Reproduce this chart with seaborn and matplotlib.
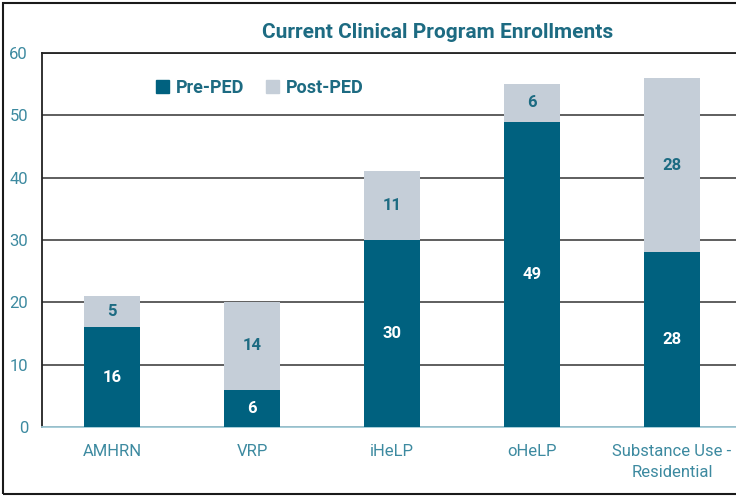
import matplotlib
matplotlib.use('Agg')
import matplotlib.pyplot as plt
import seaborn as sns
import pandas as pd
from matplotlib.patches import Patch, Rectangle

programs = ['AMHRN', 'VRP', 'iHeLP', 'oHeLP', 'Substance Use -\nResidential']
pre_ped = [16, 6, 30, 49, 28]
post_ped = [5, 14, 11, 6, 28]

dark = '#00617f'
light = '#c5ced8'
teal_text = '#1d6b82'
tick_col = '#3d8aa0'

sns.set_theme(style='white')
plt.rcParams['font.family'] = ['Roboto', 'DejaVu Sans']

df = pd.DataFrame({'program': programs, 'pre': pre_ped, 'post': post_ped})
df['total'] = df['pre'] + df['post']

fig = plt.figure(figsize=(7.36, 4.98), dpi=100)
ax = fig.add_axes([42 / 736, 71 / 498, 700 / 736, 374 / 498])

sns.barplot(data=df, x='program', y='total', color=light, width=0.4,
            saturation=1, linewidth=0, ax=ax, zorder=3)
sns.barplot(data=df, x='program', y='pre', color=dark, width=0.4,
            saturation=1, linewidth=0, ax=ax, zorder=4)

# value labels
for i, row in df.iterrows():
    ax.text(i, row['pre'] / 2, str(row['pre']), ha='center', va='center',
            color='white', fontsize=12, fontweight='bold', zorder=5)
    ax.text(i, row['pre'] + row['post'] / 2, str(row['post']), ha='center',
            va='center', color=teal_text, fontsize=12, fontweight='bold', zorder=5)

ax.set_ylim(0, 60)
ax.set_xlim(-0.5, 4.5)
ax.set_yticks(range(0, 61, 10))
ax.yaxis.grid(True, color='#333333', linewidth=1.1, zorder=0)
ax.set_axisbelow(True)
ax.set_xlabel('')
ax.set_ylabel('')
ax.tick_params(axis='y', length=0, pad=10, labelsize=12, labelcolor=tick_col)
ax.tick_params(axis='x', length=0, pad=12, labelsize=12, labelcolor=tick_col)
for lbl in ax.get_xticklabels():
    lbl.set_linespacing(1.5)

ax.spines['right'].set_visible(False)
ax.spines['left'].set_color('#222222')
ax.spines['left'].set_linewidth(1.3)
ax.spines['top'].set_color('#222222')
ax.spines['top'].set_linewidth(1.3)
ax.spines['bottom'].set_color('#9fc9d6')
ax.spines['bottom'].set_linewidth(1.3)

handles = [Patch(color=dark, label='Pre-PED'), Patch(color=light, label='Post-PED')]
leg = ax.legend(handles=handles, loc='upper left', bbox_to_anchor=(0.14, 0.975),
                ncol=2, frameon=False, handlelength=0.7, handleheight=0.7,
                handletextpad=0.4, columnspacing=1.2,
                prop={'weight': 'bold', 'size': 13})
for t in leg.get_texts():
    t.set_color(teal_text)

fig.text(438 / 736, 1 - 32 / 498, 'Current Clinical Program Enrollments',
         ha='center', va='center', fontsize=15, fontweight='bold', color=teal_text)

# outer frame
fig.patches.append(Rectangle((3 / 736, 4 / 498), 740 / 736, 491 / 498,
                             transform=fig.transFigure, fill=False,
                             edgecolor='#1a1a1a', linewidth=1.5))

fig.savefig('out.png', dpi=100)
